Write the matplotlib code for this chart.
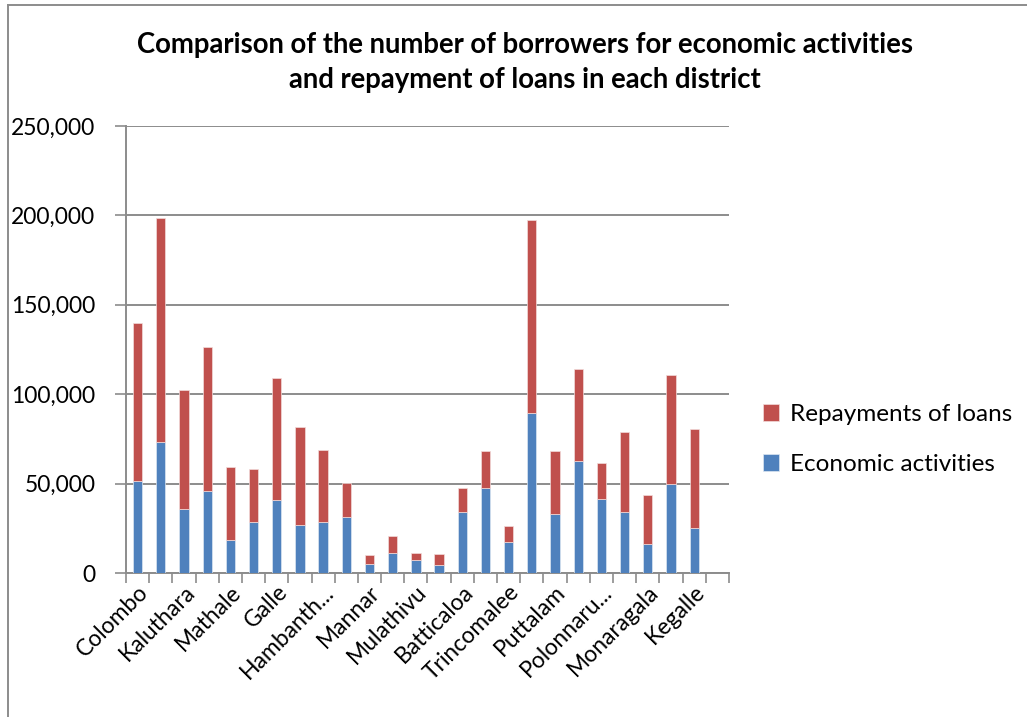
import numpy as np
import matplotlib.pyplot as plt
from matplotlib.lines import Line2D
from matplotlib.ticker import FuncFormatter

# borrowers per district, in thousands
districts = ['Colombo', 'Gampaha', 'Kaluthara', 'Kandy', 'Mathale', 'Nuwara Eliya',
             'Galle', 'Matara', 'Hambantota', 'Jaffna', 'Mannar', 'Vavuniya',
             'Mulathivu', 'Kilinochchi', 'Batticaloa', 'Ampara', 'Trincomalee',
             'Kurunegala', 'Puttalam', 'Anuradhapura', 'Polonnaruwa', 'Badulla',
             'Monaragala', 'Ratnapura', 'Kegalle']
tick_names = ['Colombo', 'Kaluthara', 'Mathale', 'Galle', 'Hambanth...', 'Mannar',
              'Mulathivu', 'Batticaloa', 'Trincomalee', 'Puttalam', 'Polonnaru...',
              'Monaragala', 'Kegalle']
economic = [51.4, 73.3, 35.9, 45.8, 18.4, 28.8, 40.9, 27.0, 28.7, 31.3, 5.2, 11.2,
            7.5, 4.7, 34.3, 47.8, 17.4, 89.5, 32.8, 62.4, 41.2, 34.3, 16.4, 49.9, 25.3]
totals = [139.6, 198.7, 102.5, 126.4, 59.4, 58.2, 109.0, 81.9, 69.0, 50.5, 10.1, 20.5,
          11.2, 10.4, 47.6, 68.1, 26.4, 197.2, 68.3, 114.3, 61.6, 79.1, 43.4, 111.0, 80.8]

economic = np.array(economic) * 1000
repayments = np.array(totals) * 1000 - economic

plt.rcParams['font.family'] = ['Lato', 'DejaVu Sans']

fig = plt.figure(figsize=(10.27, 7.17), dpi=100)
ax = fig.add_axes([0.1227, 0.2008, 0.5871, 0.6235])

x = np.arange(len(districts))
blue = '#4f81bd'
red = '#c0504d'
ax.bar(x, economic, width=0.4, color=blue, edgecolor='#dce6f2', linewidth=0.5,
       label='Economic activities', zorder=3)
ax.bar(x, repayments, width=0.4, bottom=economic, color=red, edgecolor='#f2dcdb',
       linewidth=0.5, label='Repayments of loans', zorder=3)

ax.set_ylim(0, 250000)
ax.set_xlim(-0.5, len(districts) + 0.5)
ax.set_yticks(np.arange(0, 250001, 50000))
ax.yaxis.set_major_formatter(FuncFormatter(lambda v, p: f'{int(v):,}'))
ax.grid(axis='y', color='#8c8c8c', linewidth=1.4, zorder=0)

# category boundaries carry the tick marks, names go on every other bar
ax.set_xticks(np.arange(-0.5, len(districts) + 1, 1.0))
ax.set_xticklabels([])
ax.set_xticks(x[::2], minor=True)
ax.set_xticklabels(tick_names, minor=True, rotation=45, ha='right',
                   rotation_mode='anchor', fontsize=16.5)
ax.tick_params(axis='x', which='minor', length=0, pad=6)
ax.tick_params(axis='x', which='major', length=7, width=1.2, color='#8c8c8c')
ax.tick_params(axis='y', length=8, width=1.2, color='#8c8c8c', labelsize=16.5, pad=14)

for side in ['top', 'right']:
    ax.spines[side].set_visible(False)
for side in ['left', 'bottom']:
    ax.spines[side].set_color('#8c8c8c')
    ax.spines[side].set_linewidth(1.4)

handles, labels = ax.get_legend_handles_labels()
fig.legend(handles[::-1], labels[::-1], loc='center left',
           bbox_to_anchor=(0.722, 0.387), frameon=False, fontsize=17.5,
           handlelength=0.65, handleheight=0.65, labelspacing=1.2, handletextpad=0.45)

fig.text(0.511, 0.913, 'Comparison of the number of borrowers for economic activities\n'
         'and repayment of loans in each district', ha='center', va='center',
         fontsize=19.8, fontweight='bold', linespacing=1.45)

# outer frame of the chart
fig.add_artist(Line2D([8 / 1027, 8 / 1027], [0, 1 - 5 / 717], color='#8c8c8c', lw=1.4))
fig.add_artist(Line2D([8 / 1027, 1], [1 - 5 / 717, 1 - 5 / 717], color='#8c8c8c', lw=1.4))

fig.savefig('out.png', dpi=100)
